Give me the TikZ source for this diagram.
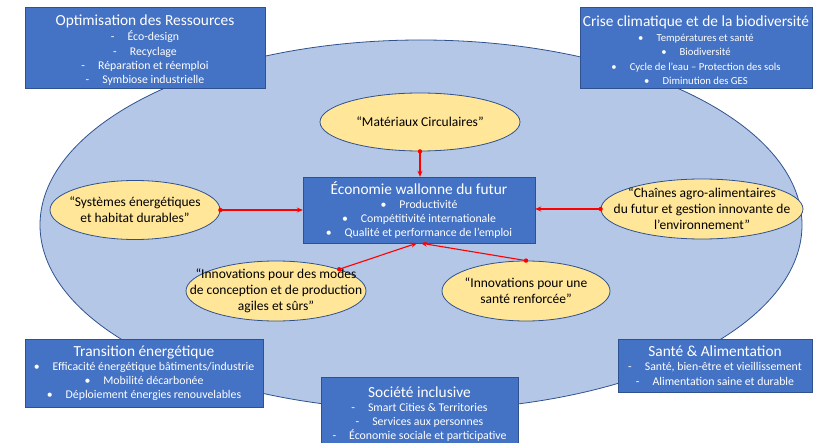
\documentclass[tikz,border=0pt]{standalone}
\usepackage{fontspec}
\setmainfont{Carlito}
\usetikzlibrary{shapes.geometric,arrows.meta}
\definecolor{boxblue}{HTML}{4472C4}
\definecolor{ellblue}{HTML}{B4C7E7}
\definecolor{edgeblue}{HTML}{2F528F}
\definecolor{goldfill}{HTML}{FFE699}
\definecolor{arrowred}{HTML}{FF0000}
\newcommand{\ttl}{\fontsize{15.4}{17}\selectfont}
\newcommand{\itm}{\fontsize{11.8}{14.2}\selectfont}
\newcommand{\itmsmall}{\fontsize{10.7}{14.2}\selectfont}
\newcommand{\dsh}{-\hspace{13pt}}
\newcommand{\bul}{•\hspace{13pt}}
\newcommand{\tstrut}{\rule{0pt}{16pt}}
\begin{document}
\begin{tikzpicture}[x=1pt,y=-1pt,
  world/.style={ellipse, draw=edgeblue, line width=0.8pt, fill=ellblue, inner sep=0pt},
  topic/.style={rectangle, draw=edgeblue, line width=0.4pt, fill=boxblue, text=white,
    align=center, inner sep=0pt, font=\itm},
  goldell/.style={ellipse, draw=edgeblue, line width=0.8pt, fill=goldfill, inner sep=0pt},
  elltext/.style={align=center, inner sep=0pt, text=black, font=\fontsize{13.5}{16}\selectfont},
  conn/.style={draw=arrowred, line width=1.1pt, -{Stealth[length=6pt,width=5pt]}},
  startdot/.style={fill=arrowred}
]
\useasboundingbox (0,0) rectangle (818,443);
\node[world, minimum width=762pt, minimum height=370pt] (world) at (421,225) {};

% topic boxes
\node[topic, minimum width=240pt, minimum height=81pt] (opt) at (145,47.5)
  {{\ttl\tstrut Optimisation des Ressources}\\[1pt]
   \dsh Éco-design\\ \dsh Recyclage\\ \dsh Réparation et réemploi\\ \dsh Symbiose industrielle};
\node[topic, minimum width=232pt, minimum height=81pt, font=\itmsmall] (crise) at (696,47.5)
  {{\ttl\tstrut Crise climatique et de la biodiversité}\\[1pt]
   \bul Températures et santé\\ \bul Biodiversité\\ \bul Cycle de l’eau – Protection des sols\\ \bul Diminution des GES};
\node[topic, minimum width=232pt, minimum height=66pt] (eco) at (419,210)
  {{\ttl Économie wallonne du futur}\\[0pt]
   \bul Productivité\\ \bul Compétitivité internationale\\ \bul Qualité et performance de l’emploi};
\node[topic, minimum width=238pt, minimum height=68pt] (trans) at (144,373)
  {{\ttl Transition énergétique}\\[0pt]
   \bul Efficacité énergétique bâtiments/industrie\\ \bul Mobilité décarbonée\\ \bul Déploiement énergies renouvelables};
\node[topic, minimum width=197pt, minimum height=74pt] (soc) at (419.5,414)
  {{\ttl Société inclusive}\\[0pt]
   \dsh Smart Cities \& Territories\\ \dsh Services aux personnes\\ \dsh Économie sociale et participative};
\node[topic, minimum width=194pt, minimum height=53pt] (sante) at (715,365.5)
  {{\ttl Santé \& Alimentation}\\[0pt]
   \dsh Santé, bien-être et vieillissement\\ \dsh Alimentation saine et durable};

% gold ellipses
\node[goldell, minimum width=200pt, minimum height=58pt] (mat) at (420,122) {};
\node[elltext] at (mat) {“Matériaux Circulaires”};
\node[goldell, minimum width=170pt, minimum height=59pt] (sys) at (135,210) {};
\node[elltext] at (sys) {“Systèmes énergétiques\\et habitat durables”};
\node[goldell, minimum width=202pt, minimum height=60pt] (cha) at (702,209) {};
\node[elltext] at (cha) {“Chaînes agro-alimentaires\\du futur et gestion innovante de\\l’environnement”};
\node[goldell, minimum width=180pt, minimum height=60pt] (inn1) at (276,291) {};
\node[elltext] at (inn1) {“Innovations pour des modes\\de conception et de production\\agiles et sûrs”};
\node[goldell, minimum width=168pt, minimum height=60pt] (inn2) at (526,291) {};
\node[elltext] at (inn2) {“Innovations pour une\\santé renforcée”};

% connectors
\coordinate (ecoL) at ([xshift=-2pt]eco.south);
\coordinate (ecoR) at ([xshift=2pt]eco.south);
\draw[conn] (mat.south) -- (mat.south |- eco.north);
\draw[conn] (sys.east) -- (sys.east -| eco.west);
\draw[conn] (cha.west) -- (cha.west -| eco.east);
\draw[conn] (inn1.19) -- (ecoL);
\draw[conn] (inn2.north) -- (ecoR);
\foreach \s in {mat.south, sys.east, cha.west, inn1.19, inn2.north}
  \fill[startdot] (\s) circle (2.2pt);
\end{tikzpicture}
\end{document}
